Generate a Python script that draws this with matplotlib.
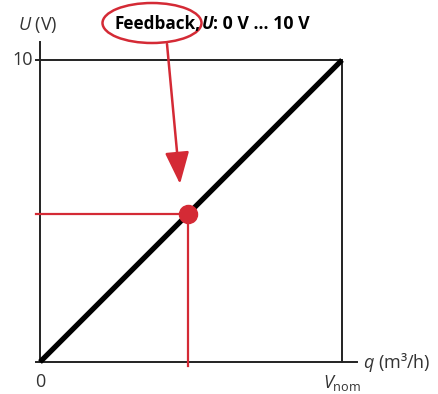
import matplotlib
matplotlib.use('Agg')
import matplotlib.pyplot as plt
from matplotlib.patches import Ellipse, FancyArrowPatch

plt.rcParams['font.family'] = ['Open Sans', 'DejaVu Sans']
plt.rcParams['mathtext.fontset'] = 'custom'
plt.rcParams['mathtext.it'] = 'Open Sans:italic'
plt.rcParams['mathtext.rm'] = 'Open Sans'

# data: flow q as fraction of V_nom, feedback voltage U in volts
q_line = [0.0, 1.0]
u_line = [0.0, 10.0]
q_point = 0.49
u_point = 4.9
x_ticks = [0.0, 1.0]
x_tick_labels = ['0', r'$V_{\mathrm{nom}}$']
y_ticks = [10.0]
y_tick_labels = ['10']

W, H = 438, 394
fig = plt.figure(figsize=(W / 100, H / 100), dpi=100)
ax = fig.add_axes([40 / W, (H - 362) / H, 302 / W, 302 / H])
ax.set_xlim(0, 1)
ax.set_ylim(0, 10)
ax.axis('off')

red = '#d42a35'
axc = '#222222'
txt = '#333333'
fs = 13

# axes and frame
ax.plot([-0.013, 1.05], [0, 0], color=axc, lw=1.4, clip_on=False)
ax.plot([0, 0], [0, 10.6], color=axc, lw=1.4, clip_on=False)
ax.plot([-0.013, 1.0], [10, 10], color=axc, lw=1.4, clip_on=False)
ax.plot([1.0, 1.0], [0, 10], color=axc, lw=1.4, clip_on=False)

# characteristic
ax.plot(q_line, u_line, color='black', lw=3.8, solid_capstyle='butt', clip_on=False)

# red guide lines and operating point
ax.plot([-0.013, q_point], [u_point, u_point], color=red, lw=1.6, clip_on=False)
ax.plot([q_point, q_point], [u_point, -0.13], color=red, lw=1.6, clip_on=False)
ax.plot(q_point, u_point, 'o', color=red, ms=13, clip_on=False, zorder=5)

# tick labels
for x, lab in zip(x_ticks, x_tick_labels):
    ax.annotate(lab, (x, 0), xytext=(0, -8), textcoords='offset points',
                ha='center', va='top', fontsize=fs, color=txt, annotation_clip=False)
for y, lab in zip(y_ticks, y_tick_labels):
    ax.annotate(lab, (0, y), xytext=(-5, 0), textcoords='offset points',
                ha='right', va='center', fontsize=fs, color=txt, annotation_clip=False)

ax.annotate('$q$ (m³/h)', (1.05, 0), xytext=(4, 0), textcoords='offset points',
            ha='left', va='center', fontsize=fs, color=txt, annotation_clip=False)
fig.text(18 / W, 1 - 25 / H, '$U$ (V)', ha='left', va='center', fontsize=fs, color=txt)

# title with highlighted word
tfs = 12.3
fig.text(115 / W, 1 - 24 / H, 'Feedback,', ha='left', va='center', fontsize=tfs,
         fontweight='bold', color='black')
fig.text(202 / W, 1 - 24 / H, 'U', ha='left', va='center', fontsize=tfs,
         fontweight='bold', fontstyle='italic', color='black')
fig.text(213 / W, 1 - 24 / H, ': 0 V ... 10 V', ha='left', va='center',
         fontsize=tfs + 0.5, fontweight='bold', color='black')
fig.patches.append(Ellipse((152 / W, 1 - 23 / H), 99 / W, 40 / H, transform=fig.transFigure,
                           fill=False, ec=red, lw=1.8))
fig.patches.append(FancyArrowPatch(
    (167 / W, 1 - 44 / H), (180 / W, 1 - 184 / H), transform=fig.transFigure,
    arrowstyle='-|>,head_length=9,head_width=3.4', mutation_scale=2.2, color=red, lw=1.8,
    shrinkA=0, shrinkB=0))

fig.savefig('out.png', dpi=100)
